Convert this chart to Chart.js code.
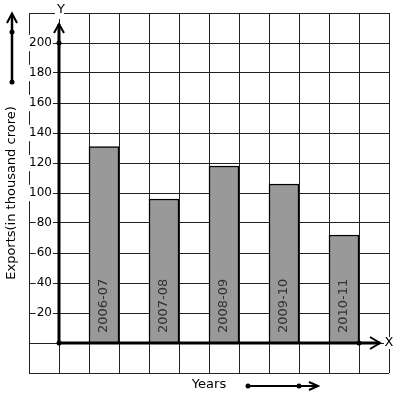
<!DOCTYPE html>
<html><head><meta charset="utf-8">
<script src="https://cdn.jsdelivr.net/npm/chart.js@4"></script>
<style>html,body{margin:0;padding:0;background:#fff;overflow:hidden}#wrap{width:397px;height:399px;position:relative}</style>
</head><body><div id="wrap"><canvas id="c"></canvas></div>
<script>
const categories = ['2006-07', '2007-08', '2008-09', '2009-10', '2010-11'];
const exportsValues = [131, 96, 118, 106, 72];
const yTickLabels = [20, 40, 60, 80, 100, 120, 140, 160, 180, 200];
const yAxisTitle = 'Exports(in thousand crore)';
const xAxisTitle = 'Years';
const yMin = -20, yMax = 220, yStep = 20;
const columnCount = 12, firstBarColumn = 2, columnStride = 2;

const slotLabels = Array.from({length: columnCount}, () => '');
const slotValues = Array.from({length: columnCount}, () => null);
categories.forEach((c, i) => {
  slotLabels[firstBarColumn + columnStride * i] = c;
  slotValues[firstBarColumn + columnStride * i] = exportsValues[i];
});

const FONT = 'DejaVu Sans';

const decor = {
  id: 'decor',
  afterDatasetsDraw(chart) {
    const {ctx, scales: {x, y}} = chart;
    const y0 = y.getPixelForValue(0);
    // bar labels
    const meta = chart.getDatasetMeta(0);
    ctx.save();
    ctx.font = '13px "' + FONT + '"';
    ctx.fillStyle = '#333';
    ctx.textAlign = 'left';
    ctx.textBaseline = 'middle';
    meta.data.forEach((bar, i) => {
      if (slotValues[i] == null) return;
      ctx.save();
      ctx.translate(bar.x, y0 - 10);
      ctx.rotate(-Math.PI / 2);
      ctx.fillText(slotLabels[i], 0, 0);
      ctx.restore();
    });
    ctx.restore();
  },
  afterDraw(chart) {
    const {ctx, scales: {x, y}, chartArea} = chart;
    const y0 = y.getPixelForValue(0);
    const yTop = y.getPixelForValue(200);
    const xAxisX = (x.getPixelForTick(0) + x.getPixelForTick(1)) / 2;
    const xDot = (x.getPixelForTick(10) + x.getPixelForTick(11)) / 2;
    ctx.save();
    ctx.strokeStyle = '#000';
    ctx.fillStyle = '#000';
    ctx.lineCap = 'butt';
    // thick axes
    ctx.lineWidth = 3;
    ctx.beginPath();
    ctx.moveTo(xAxisX, y0); ctx.lineTo(xAxisX, chartArea.top + 11);
    ctx.moveTo(xAxisX, y0); ctx.lineTo(chartArea.right - 9, y0);
    ctx.stroke();
    ctx.lineWidth = 2;
    ctx.beginPath();
    ctx.moveTo(xAxisX - 5, chartArea.top + 20); ctx.lineTo(xAxisX, chartArea.top + 11); ctx.lineTo(xAxisX + 5, chartArea.top + 20);
    ctx.moveTo(chartArea.right - 19, y0 - 6); ctx.lineTo(chartArea.right - 9, y0); ctx.lineTo(chartArea.right - 19, y0 + 6);
    ctx.stroke();
    const dot = (px, py) => { ctx.beginPath(); ctx.arc(px, py, 2.5, 0, Math.PI * 2); ctx.fill(); };
    dot(xAxisX, y0); dot(xAxisX, yTop); dot(xDot, y0);
    // left decorative arrow
    ctx.lineWidth = 2.5;
    ctx.beginPath();
    ctx.moveTo(12, 82); ctx.lineTo(12, 14);
    ctx.stroke();
    ctx.lineWidth = 2;
    ctx.beginPath();
    ctx.moveTo(7, 23); ctx.lineTo(12, 13.5); ctx.lineTo(17, 23);
    ctx.stroke();
    dot(12, 32); dot(12, 82);
    // bottom decorative arrow
    ctx.lineWidth = 2;
    ctx.beginPath();
    ctx.moveTo(248, 386); ctx.lineTo(318, 386);
    ctx.moveTo(309, 382); ctx.lineTo(318, 386); ctx.lineTo(309, 390);
    ctx.stroke();
    dot(248, 386); dot(299, 386);
    // axis letters
    ctx.font = '13px "' + FONT + '"';
    ctx.textAlign = 'center';
    ctx.textBaseline = 'middle';
    ctx.fillStyle = '#fff';
    ctx.fillRect(xAxisX - 4, chartArea.top - 8, 9, 14);
    ctx.fillRect(chartArea.right - 5, y0 - 6, 9, 12);
    ctx.fillStyle = '#000';
    ctx.fillText('Y', xAxisX + 2, chartArea.top - 3);
    ctx.fillText('X', chartArea.right, y0);
    ctx.restore();
  }
};

new Chart(document.getElementById('c'), {
  type: 'bar',
  data: {
    labels: slotLabels,
    datasets: [{
      data: slotValues,
      backgroundColor: '#999999',
      borderColor: '#000',
      borderWidth: 1.5,
      barPercentage: 1,
      categoryPercentage: 1,
      skipNull: true
    }]
  },
  options: {
    responsive: true,
    maintainAspectRatio: false,
    animation: false,
    devicePixelRatio: 1,
    layout: {padding: {left: 4, top: 13, right: 8, bottom: 6.2}},
    plugins: {legend: {display: false}, tooltip: {enabled: false}},
    scales: {
      x: {
        type: 'category',
        offset: true,
        ticks: {display: false},
        grid: {offset: true, color: '#222', lineWidth: 1, drawTicks: false},
        border: {display: false},
        title: {display: true, text: xAxisTitle, color: '#000', font: {family: FONT, size: 13}, padding: {top: 4.2, bottom: 0}}
      },
      y: {
        type: 'linear',
        position: 'left',
        min: yMin, max: yMax,
        ticks: {
          stepSize: yStep,
          mirror: true,
          crossAlign: 'far',
          padding: 0,
          color: '#000',
          font: {family: FONT, size: 12},
          callback: v => yTickLabels.includes(v) ? String(v) : '',
          showLabelBackdrop: ctx => yTickLabels.includes(ctx.tick.value),
          backdropColor: '#fff',
          backdropPadding: 1
        },
        grid: {color: '#222', lineWidth: 1, drawTicks: false},
        border: {display: false},
        title: {display: true, text: yAxisTitle, color: '#000', font: {family: FONT, size: 13}, padding: {top: 0, bottom: 9.4}}
      }
    }
  },
  plugins: [decor]
});
</script></body></html>
